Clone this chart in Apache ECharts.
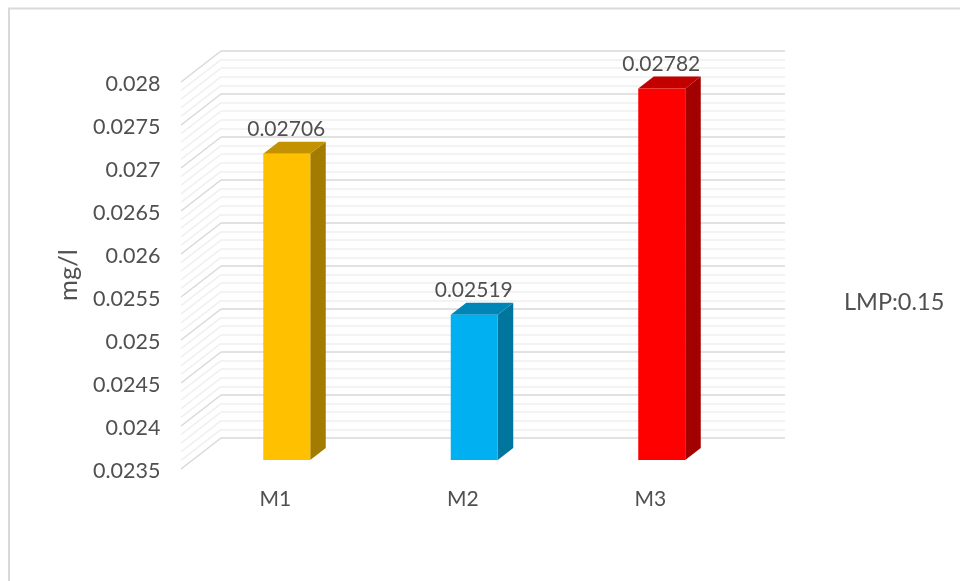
<!DOCTYPE html>
<html>
<head>
<meta charset="utf-8">
<style>
  html, body { margin: 0; padding: 0; background: #fff; }
  #chart { width: 960px; height: 581px; }
</style>
</head>
<body>
<div id="chart"></div>
<script src="https://cdn.jsdelivr.net/npm/echarts@6/dist/echarts.min.js"></script>
<script>
const categories = ['M1', 'M2', 'M3']
const values = [0.02706, 0.02519, 0.02782]
const axisMin = 0.0235
const axisMax = 0.028
const axisStep = 0.0005
// every line drawn on the side wall, majors and minors
const wallTicks = [
  0.0235, 0.0236, 0.0237, 0.0238, 0.0239, 0.024, 0.0241, 0.0242, 0.0243, 0.0244,
  0.0245, 0.0246, 0.0247, 0.0248, 0.0249, 0.025, 0.0251, 0.0252, 0.0253, 0.0254,
  0.0255, 0.0256, 0.0257, 0.0258, 0.0259, 0.026, 0.0261, 0.0262, 0.0263, 0.0264,
  0.0265, 0.0266, 0.0267, 0.0268, 0.0269, 0.027, 0.0271, 0.0272, 0.0273, 0.0274,
  0.0275, 0.0276, 0.0277, 0.0278, 0.0279, 0.028
]
const faceColors = ['#FFC000', '#00B0F0', '#FF0000']
const topColors = ['#C29200', '#0086B6', '#C20000']
const sideColors = ['#A37B00', '#00769F', '#A30000']

const font = 'Lato'
const textColor = '#505050'
const majorColor = '#d9d9d9'
const minorColor = '#f0f0f0'

const chart = echarts.init(document.getElementById('chart'))

// side wall: from the back wall forward and down
function renderWall(params, api) {
  const v = api.value(0)
  const y = api.coord([0, v])[1]
  const x = params.coordSys.x
  const major = Math.round(v * 10000) % 5 === 0
  return {
    type: 'line',
    shape: { x1: x, y1: y, x2: x - 40, y2: y + 31 },
    style: { stroke: major ? majorColor : minorColor, lineWidth: 1.5 }
  }
}

// 3D bar: sits slightly behind the front plane
function renderBar(params, api) {
  const i = params.dataIndex
  const top = api.coord([api.value(0), api.value(1)])
  const base = api.coord([api.value(0), axisMin])
  const w = 47
  const dx = 15.5
  const dy = -12
  const x0 = top[0] + 11.5 - w / 2
  const x1 = x0 + w
  const yt = top[1] - 11
  const yb = base[1] - 11
  return {
    type: 'group',
    children: [
      {
        type: 'polygon',
        shape: { points: [[x1, yt], [x1 + dx, yt + dy], [x1 + dx, yb + dy], [x1, yb]] },
        style: { fill: sideColors[i] }
      },
      {
        type: 'polygon',
        shape: { points: [[x0, yt], [x0 + dx, yt + dy], [x1 + dx, yt + dy], [x1, yt]] },
        style: { fill: topColors[i] }
      },
      {
        type: 'rect',
        shape: { x: x0, y: yt, width: w, height: yb - yt },
        style: { fill: faceColors[i] }
      },
      {
        type: 'text',
        x: x0 + w / 2 - 0.5,
        y: yt - 24.5,
        style: {
          text: String(api.value(1)),
          fill: textColor,
          font: '21px ' + font,
          align: 'center',
          verticalAlign: 'middle'
        }
      }
    ]
  }
}

chart.setOption({
  animation: false,
  backgroundColor: '#fff',
  textStyle: { fontFamily: font },
  grid: [
    // back wall
    { left: 221, right: 175, top: 51, bottom: 143 },
    // front plane, carries the axis labels
    { left: 181.5, right: 216, top: 84, bottom: 110 }
  ],
  xAxis: [
    {
      gridIndex: 0,
      type: 'category',
      data: categories,
      axisLine: { show: false },
      axisTick: { show: false },
      axisLabel: { show: false }
    },
    {
      gridIndex: 1,
      type: 'category',
      data: categories,
      axisLine: { show: false },
      axisTick: { show: false },
      axisLabel: { margin: 18, fontSize: 21, color: textColor, fontFamily: font }
    }
  ],
  yAxis: [
    {
      gridIndex: 0,
      type: 'value',
      min: axisMin,
      max: axisMax,
      interval: axisStep,
      axisLine: { show: false },
      axisTick: { show: false },
      axisLabel: { show: false },
      splitLine: { show: true, lineStyle: { color: majorColor, width: 1.5 } },
      minorTick: { show: false, splitNumber: 5 },
      minorSplitLine: { show: true, lineStyle: { color: minorColor, width: 1.5 } }
    },
    {
      gridIndex: 1,
      type: 'value',
      min: axisMin,
      max: axisMax,
      interval: axisStep,
      name: 'mg/l',
      nameLocation: 'middle',
      nameGap: 100,
      nameTextStyle: { fontSize: 25.5, color: textColor, fontFamily: font, padding: [0, 0, 0, 5] },
      axisLine: { show: false },
      axisTick: { show: false },
      splitLine: { show: false },
      axisLabel: {
        margin: 21,
        fontSize: 21.5,
        color: textColor,
        fontFamily: font,
        formatter: v => String(+v.toFixed(4))
      }
    }
  ],
  series: [
    {
      type: 'custom',
      name: 'wall',
      xAxisIndex: 0,
      yAxisIndex: 0,
      coordinateSystem: 'cartesian2d',
      renderItem: renderWall,
      encode: { y: 0 },
      data: wallTicks.map(v => [v]),
      silent: true,
      clip: false,
      z: 1
    },
    {
      type: 'custom',
      name: 'mg/l',
      xAxisIndex: 1,
      yAxisIndex: 1,
      coordinateSystem: 'cartesian2d',
      renderItem: renderBar,
      encode: { x: 0, y: 1 },
      data: categories.map((c, i) => [i, values[i]]),
      clip: false,
      z: 3
    }
  ],
  graphic: [
    {
      // chart frame, open past the window edge
      type: 'polyline',
      silent: true,
      shape: { points: [[9, 600], [9, 8.5], [970, 8.5]] },
      style: { stroke: '#d9d9d9', lineWidth: 2, fill: null }
    },
    {
      type: 'text',
      left: 844,
      top: 290,
      style: { text: 'LMP:0.15', fill: textColor, font: '23.5px ' + font }
    }
  ]
})
</script>
</body>
</html>
